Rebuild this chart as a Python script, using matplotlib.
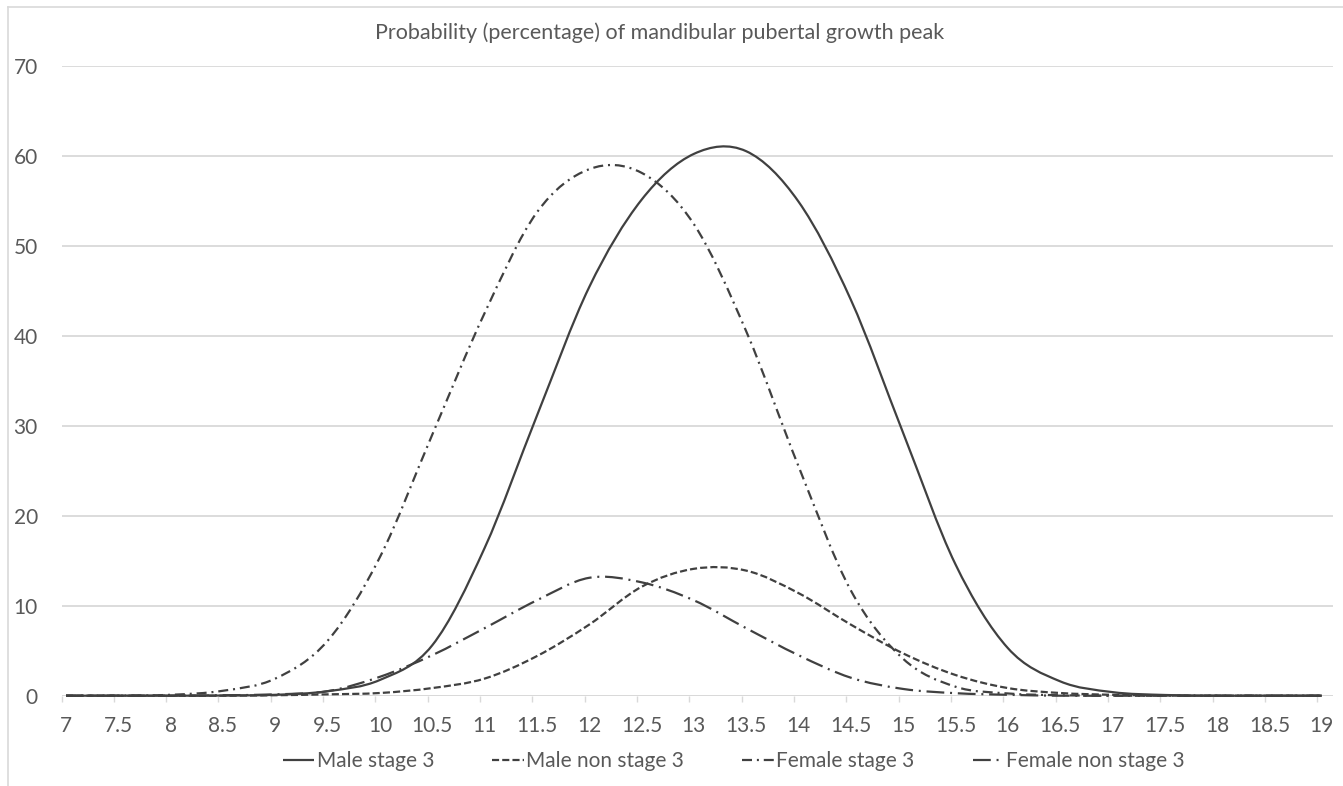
import matplotlib
matplotlib.use('Agg')
import matplotlib.pyplot as plt
from matplotlib.path import Path
from matplotlib.patches import PathPatch
from matplotlib.lines import Line2D

# ---- data ----
ages = [7, 7.5, 8, 8.5, 9, 9.5, 10, 10.5, 11, 11.5, 12, 12.5, 13,
        13.5, 14, 14.5, 15, 15.5, 16, 16.5, 17, 17.5, 18, 18.5, 19]
tick_labels = ["7", "7.5", "8", "8.5", "9", "9.5", "10", "10.5", "11", "11.5",
               "12", "12.5", "13", "13.5", "14", "14.5", "15", "15.5", "16",
               "16.5", "17", "17.5", "18", "18.5", "19"]
male_stage3 = [0, 0, 0, 0.02, 0.1, 0.5, 1.75, 5.6, 16.4, 31.1, 45.4, 55.1, 60.2,
               60.5, 54.9, 44, 29.2, 14.6, 5.3, 1.6, 0.4, 0.08, 0, 0, 0]
male_non_stage3 = [0, 0, 0, 0, 0.05, 0.15, 0.3, 0.85, 1.9, 4.4, 7.9, 12.1, 14.1,
                   13.9, 11.4, 7.9, 4.7, 2.3, 0.85, 0.3, 0.1, 0.02, 0, 0, 0]
female_stage3 = [0, 0.02, 0.1, 0.55, 1.9, 6.1, 15.4, 29, 42.5, 53.7, 58.5, 58.1,
                 52.4, 40.5, 25.5, 11.7, 4.1, 1.0, 0.25, 0.05, 0, 0, 0, 0, 0]
female_non_stage3 = [0, 0, 0, 0.05, 0.15, 0.5, 2.1, 4.5, 7.5, 10.6, 13.1, 12.6,
                     10.6, 7.5, 4.5, 2.0, 0.75, 0.28, 0.1, 0, 0, 0, 0, 0, 0]
series_names = ["Male stage 3", "Male non stage 3", "Female stage 3",
                "Female non stage 3"]
yticks = [0, 10, 20, 30, 40, 50, 60, 70]
title = "Probability (percentage) of mandibular pubertal growth peak"

# ---- style ----
LINE = "#404040"
TXT = "#595959"
GRID = "#d9d9d9"
styles = ["-", (0, (3.2, 1.4)), (0, (4.5, 2.2, 0.9, 2.2)), (0, (8, 2.6, 0.9, 2.6))]
FONT = "Lato"


def smooth_path(x, y):
    """Excel-like smoothed line: Bezier segments through the data points."""
    n = len(x)
    verts = [(x[0], y[0])]
    codes = [Path.MOVETO]
    for i in range(n - 1):
        p0 = (x[i - 1], y[i - 1]) if i > 0 else (x[i], y[i])
        p1 = (x[i], y[i])
        p2 = (x[i + 1], y[i + 1])
        p3 = (x[i + 2], y[i + 2]) if i + 2 < n else p2
        c1 = (p1[0] + (p2[0] - p0[0]) / 6.0, p1[1] + (p2[1] - p0[1]) / 6.0)
        c2 = (p2[0] - (p3[0] - p1[0]) / 6.0, p2[1] - (p3[1] - p1[1]) / 6.0)
        verts += [c1, c2, p2]
        codes += [Path.CURVE4] * 3
    return Path(verts, codes)


W, H = 1343, 786
fig = plt.figure(figsize=(W / 100, H / 100), dpi=100)
fig.patch.set_facecolor("white")

left, right = 61.5 / W, 1333 / W
bottom, top = (H - 695.7) / H, (H - 65.7) / H
ax = fig.add_axes([left, bottom, right - left, top - bottom])

ax.set_xlim(6.957, 19.108)
ax.set_ylim(0, 70)

for s in ax.spines.values():
    s.set_visible(False)

ax.set_yticks(yticks)
ax.set_yticklabels([str(v) for v in yticks], fontsize=15, color=TXT, family=FONT)
ax.yaxis.grid(True, color=GRID, linewidth=1.3, zorder=0)
ax.tick_params(axis="y", length=0, pad=17)

# labels centred on the categories, small tick marks just left of them
ax.set_xticks(ages)
ax.set_xticklabels(tick_labels, fontsize=15, color=TXT, family=FONT)
ax.tick_params(axis="x", which="major", length=0, pad=14.8)
ax.set_xticks([a - 0.043 for a in ages], minor=True)
ax.tick_params(axis="x", which="minor", length=4.5, width=1, color=GRID)
ax.axhline(0, color=GRID, linewidth=1.3, zorder=1)
ax.set_axisbelow(True)

all_series = [male_stage3, male_non_stage3, female_stage3, female_non_stage3]
handles = []
for vals, ls, name in zip(all_series, styles, series_names):
    patch = PathPatch(smooth_path(ages, vals), fill=False, edgecolor=LINE,
                      linewidth=1.6, linestyle=ls, capstyle="butt", zorder=3,
                      clip_on=False)
    ax.add_patch(patch)
    handles.append(Line2D([], [], color=LINE, linewidth=1.6, linestyle=ls,
                          dash_capstyle="butt", solid_capstyle="butt"))

fig.text(660 / W, (H - 32.5) / H, title, ha="center", va="center",
         fontsize=15.5, color=TXT, family=FONT)

fig.legend(handles, series_names, loc="center",
           bbox_to_anchor=(734 / W, (H - 761) / H),
           ncol=4, frameon=False, handlelength=1.5, handletextpad=0.12,
           columnspacing=2.8, prop={"family": FONT, "size": 15},
           labelcolor=TXT)

# chart-area border (left and top edges visible in the reference)
fig.add_artist(Line2D([7.5 / W, 7.5 / W], [0, (H - 7) / H], transform=fig.transFigure,
                      color=GRID, linewidth=1.2))
fig.add_artist(Line2D([7.5 / W, 1], [(H - 7) / H, (H - 7) / H], transform=fig.transFigure,
                      color=GRID, linewidth=1.2))

fig.savefig("out.png", dpi=100, facecolor="white")
